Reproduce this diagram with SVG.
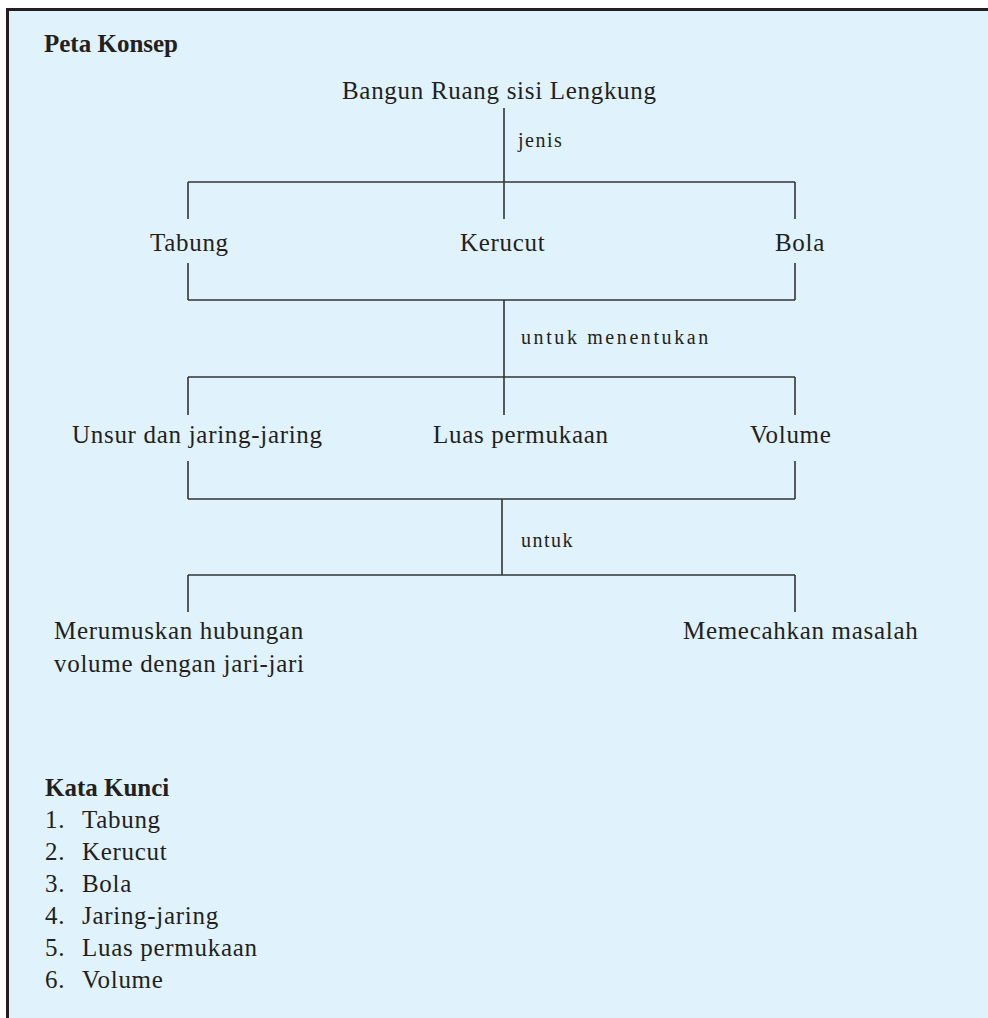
<svg xmlns="http://www.w3.org/2000/svg" width="988" height="1018" viewBox="0 0 988 1018">
<style>
.t{font-family:"Liberation Serif","Times New Roman",serif;font-size:25px;fill:#231f20;letter-spacing:0.7px}
.s{font-family:"Liberation Serif","Times New Roman",serif;font-size:20px;fill:#231f20;letter-spacing:1.5px}
.b{font-family:"Liberation Serif","Times New Roman",serif;font-size:25px;font-weight:bold;fill:#231f20}
.c line{stroke:#333;stroke-width:1.6}
</style>
<rect x="0" y="0" width="988" height="1018" fill="#ffffff"/>
<rect x="8" y="10" width="980" height="1008" fill="#e0f2fc"/>
<line x1="7.5" y1="9.5" x2="988" y2="9.5" stroke="#231f20" stroke-width="3"/>
<line x1="7.5" y1="8" x2="7.5" y2="1018" stroke="#231f20" stroke-width="3"/>
<text class="b" x="44" y="52">Peta Konsep</text>
<g class="c" id="connectors">
<line x1="504" y1="108" x2="504" y2="182"/>
<line x1="188" y1="182" x2="795" y2="182"/>
<line x1="188" y1="182" x2="188" y2="219"/>
<line x1="504" y1="182" x2="504" y2="219"/>
<line x1="795" y1="182" x2="795" y2="219"/>
<line x1="188" y1="263" x2="188" y2="300"/>
<line x1="795" y1="263" x2="795" y2="300"/>
<line x1="188" y1="300" x2="795" y2="300"/>
<line x1="504" y1="300" x2="504" y2="415"/>
<line x1="188" y1="377" x2="795" y2="377"/>
<line x1="188" y1="377" x2="188" y2="415"/>
<line x1="795" y1="377" x2="795" y2="415"/>
<line x1="188" y1="461" x2="188" y2="499"/>
<line x1="795" y1="461" x2="795" y2="499"/>
<line x1="188" y1="499" x2="795" y2="499"/>
<line x1="502" y1="499" x2="502" y2="575"/>
<line x1="188" y1="575" x2="795" y2="575"/>
<line x1="188" y1="575" x2="188" y2="612"/>
<line x1="795" y1="575" x2="795" y2="612"/>
</g>
<g id="labels">
<text class="s" x="518" y="147">jenis</text>
<text class="s" x="521" y="344" style="letter-spacing:2.6px">untuk menentukan</text>
<text class="s" x="521" y="547">untuk</text>
</g>
<g id="root"><text class="t" x="342" y="99">Bangun Ruang sisi Lengkung</text></g>
<g id="tabung"><text class="t" x="150" y="251">Tabung</text></g>
<g id="kerucut"><text class="t" x="460" y="251">Kerucut</text></g>
<g id="bola"><text class="t" x="775" y="251">Bola</text></g>
<g id="unsur"><text class="t" x="72" y="443">Unsur dan jaring-jaring</text></g>
<g id="luas"><text class="t" x="433" y="443">Luas permukaan</text></g>
<g id="volume"><text class="t" x="750" y="443">Volume</text></g>
<g id="merumuskan"><text class="t" x="54" y="639">Merumuskan  hubungan</text><text class="t" x="54" y="672">volume dengan jari-jari</text></g>
<g id="memecahkan"><text class="t" x="683" y="639">Memecahkan masalah</text></g>
<g id="kata-kunci">
<text class="b" x="45" y="796">Kata Kunci</text>
<text class="t" x="45" y="828">1.</text><text class="t" x="82" y="828">Tabung</text>
<text class="t" x="45" y="860">2.</text><text class="t" x="82" y="860">Kerucut</text>
<text class="t" x="45" y="892">3.</text><text class="t" x="82" y="892">Bola</text>
<text class="t" x="45" y="924">4.</text><text class="t" x="82" y="924">Jaring-jaring</text>
<text class="t" x="45" y="956">5.</text><text class="t" x="82" y="956">Luas permukaan</text>
<text class="t" x="45" y="988">6.</text><text class="t" x="82" y="988">Volume</text>
</g>
</svg>
